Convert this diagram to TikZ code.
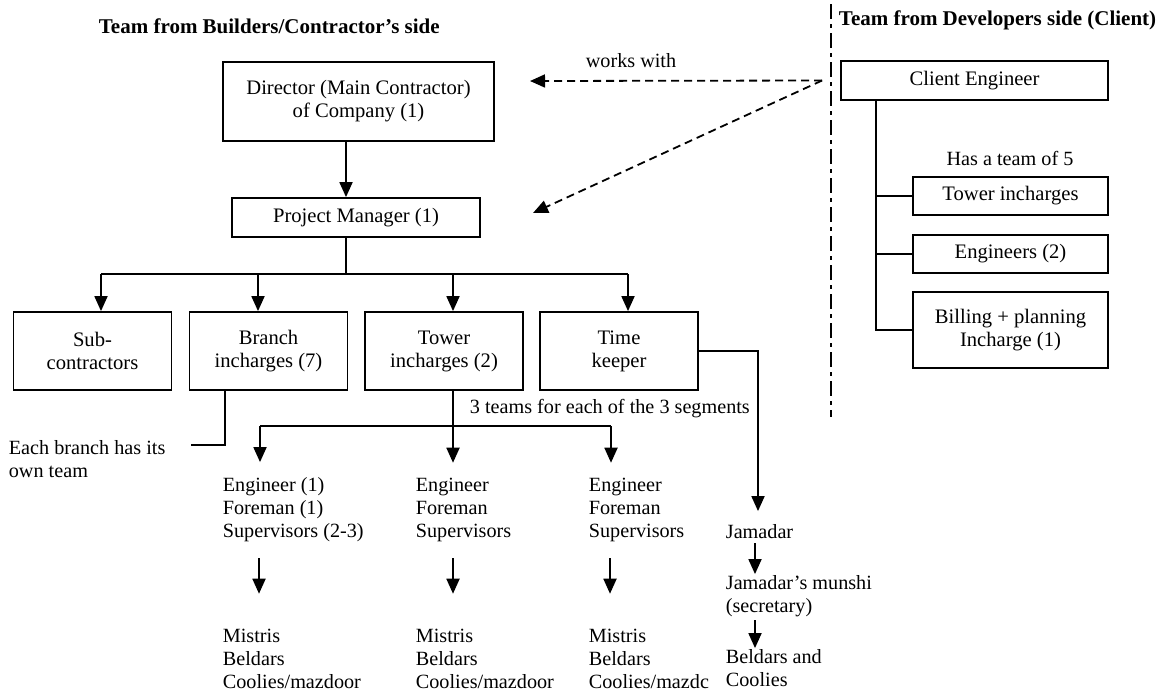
\documentclass[tikz,border=0pt]{standalone}
\usepackage{fontspec}
\setmainfont{Liberation Serif}
\usetikzlibrary{arrows.meta}

\begin{document}
\begin{tikzpicture}[x=0.5pt,y=-0.5pt,>={Triangle[width=6.5pt,length=7.5pt]},line width=0.9pt,
  font=\fontsize{10.1}{11.5}\selectfont,
  box/.style={draw,align=center,inner sep=0pt,font=\fontsize{10.3}{11.5}\selectfont},
  lbl/.style={anchor=base west,align=left,inner sep=0pt},
  head/.style={anchor=base west,inner sep=0pt,font=\fontsize{10.5}{11.5}\selectfont\bfseries},
  dsh/.style={dash pattern=on 4pt off 2.5pt},
  divider/.style={line width=1.3pt,dash pattern=on 7.5pt off 2.5pt on 2pt off 2.5pt}]
\useasboundingbox (0,0) rectangle (1161,698);

% Headings
\node[head] (hbuild) at (98,33) {Team from Builders/Contractor’s side};
\node[head] (hdev) at (838,25) {Team from Developers side (Client)};

% Divider
\coordinate (divtop) at (831,4);
\coordinate (divbot) at (831,417);
\draw[divider] (divtop) -- (divbot);

% Contractor boxes
\node[box,minimum width=135.5pt,minimum height=39.5pt] (dir) at (358.5,101.5) {Director (Main Contractor)\\of Company (1)};
\node[box,minimum width=124pt,minimum height=19.5pt] (pm) at (356,217.5) {Project Manager (1)};
\foreach \n/\x/\t in {sub/92.5/Sub-\\contractors,bra/268.5/Branch\\incharges (7),tow/444/Tower\\incharges (2),time/619/Time\\keeper} {
  \node[box,minimum width=79pt,minimum height=39pt] (\n) at (\x,351) {\t};
}

% Client boxes
\node[box,minimum width=133.5pt,minimum height=19.5pt] (ce) at (974.5,80.5) {Client Engineer};
\node[lbl,anchor=base] (team5) at (1010,165) {Has a team of 5};
\node[box,minimum width=97.5pt,minimum height=19pt] (ctow) at (1010.5,196) {Tower incharges};
\node[box,minimum width=97.5pt,minimum height=19pt] (ceng) at (1010.5,254) {Engineers (2)};
\node[box,minimum width=97.5pt,minimum height=38pt] (cbill) at (1010.5,330) {Billing + planning\\Incharge (1)};

% Teams under the boxes (base = last line)
\node[lbl] (each) at (8,477) {Each branch has its\\own team};
\node[lbl] (seg) at (469,413) {3 teams for each of the 3 segments};
\node[lbl] (e1) at (222,537) {Engineer (1)\\Foreman (1)\\Supervisors (2-3)};
\node[lbl] (e2) at (415,537) {Engineer\\Foreman\\Supervisors};
\node[lbl] (e3) at (588,537) {Engineer\\Foreman\\Supervisors};
\node[lbl] (m1) at (222,688) {Mistris\\Beldars\\Coolies/mazdoor};
\node[lbl] (m2) at (415,688) {Mistris\\Beldars\\Coolies/mazdoor};
\node[lbl] (m3) at (588,688) {Mistris\\Beldars\\Coolies/mazdc};
\node[lbl] (jam) at (725,538) {Jamadar};
\node[lbl] (mun) at (725,612) {Jamadar’s munshi\\(secretary)};
\node[lbl] (bel) at (725,686) {Beldars and\\Coolies};

% Works with
\node[lbl,anchor=base] (works) at (631,67) {works with};
\coordinate (wdir) at (530,81);
\coordinate (wpm) at (533,213);
\draw[->,dsh] ([xshift=-9pt]ce.west) -- (wdir);
\draw[->,dsh] ([xshift=-9pt]ce.west) -- (wpm);

% Director to project manager
\draw[->] (dir.south -| 346,0) -- (pm.north -| 346,0);

% Project manager tree
\coordinate (pmj) at (346,274);
\draw (pm.south -| pmj) -- (pmj);
\draw (pmj -| 101,0) -- (pmj -| 628,0);
\foreach \n/\x in {sub/101,bra/258,tow/453,time/628} {
  \draw[->] (pmj -| \x,0) -- (\n.north -| \x,0);
}

% Branch team
\coordinate (brend) at (191,445);
\draw (bra.south -| 225,0) |- (brend);

% Tower segments
\coordinate (twj) at (453,426);
\draw (tow.south -| twj) -- (twj);
\draw (twj -| 260,0) -- (twj -| 611,0);
\foreach \n/\x in {e1/260,e2/453,e3/611} {
  \draw[->,shorten >=7pt] (twj -| \x,0) -- (\n.north -| \x,0);
}
\foreach \a/\b/\x in {e1/m1/259,e2/m2/453,e3/m3/610} {
  \draw[->,shorten <=8pt,shorten >=17pt] (\a.south -| \x,0) -- (\b.north -| \x,0);
}

% Time keeper line
\draw[->,shorten >=6pt] (time.east) -| (jam.north -| 758,0);
\draw[->,shorten <=2pt] (jam.south -| 755,0) -- (mun.north -| 755,0);
\draw[->,shorten <=1.5pt] (mun.south -| 755,0) -- (bel.north -| 755,0);

% Client tree
\coordinate (ctr) at ([xshift=18pt]ce.south west);
\draw (ctr) |- (cbill.west);
\foreach \n in {ctow,ceng} {
  \draw (ctr |- \n.west) -- (\n.west);
}

\end{tikzpicture}
\end{document}
